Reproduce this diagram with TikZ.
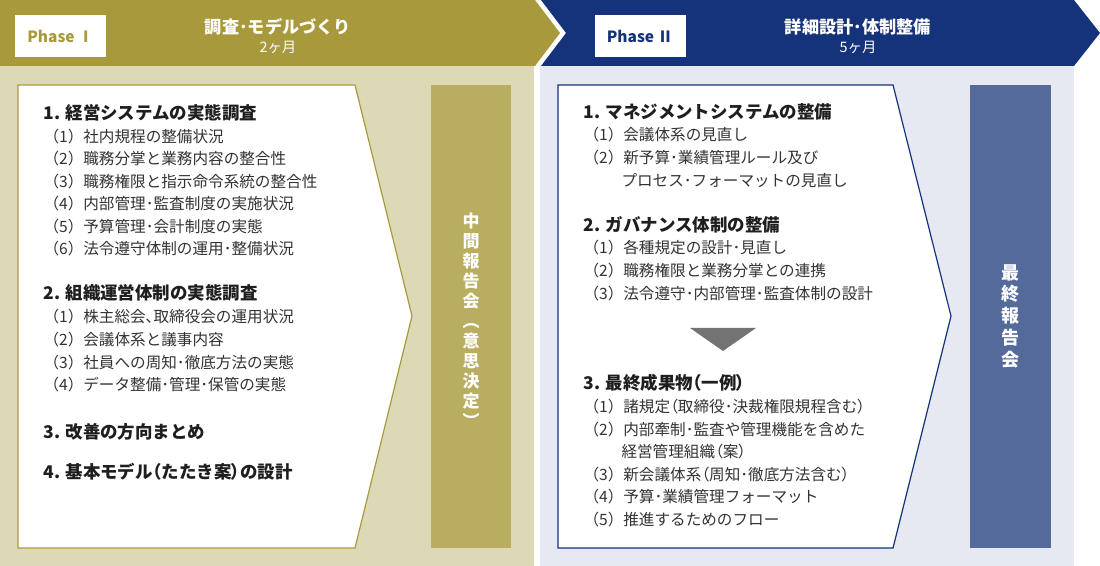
\documentclass[tikz,border=0pt]{standalone}
\usepackage{fontspec}
\setmainfont{Noto Sans CJK JP}
\newfontfamily\paltfont{Noto Sans CJK JP}[RawFeature=+palt]
\newcommand{\lp}{{\paltfont （}}
\newcommand{\rp}{{\paltfont ）}}
\definecolor{olivehead}{HTML}{A89A3C}
\definecolor{olivebg}{HTML}{DDD9B6}
\definecolor{olivebar}{HTML}{B9AD5F}
\definecolor{navyhead}{HTML}{15337A}
\definecolor{navybg}{HTML}{E6E9F2}
\definecolor{navybar}{HTML}{546A9B}
\definecolor{bodytext}{HTML}{333333}
\definecolor{headink}{HTML}{1E1E1E}
\definecolor{arrowgrey}{HTML}{737373}
\tikzset{every picture/.style={line width=0.75pt}}
\tikzset{
  headtext/.style={anchor=base west, inner sep=0pt, text=headink, font=\fontsize{13.1}{15}\selectfont\bfseries},
  itemtext/.style={anchor=base west, inner sep=0pt, text=bodytext, font=\fontsize{11.7}{14}\selectfont},
  phasebox/.style={fill=white, inner sep=0pt, minimum width=68.25pt, minimum height=31.5pt, font=\fontsize{11.6}{13}\selectfont\bfseries},
  titletext/.style={inner sep=0pt, text=white, font=\fontsize{12.9}{14}\selectfont\bfseries},
  monthtext/.style={inner sep=0pt, text=white, font=\fontsize{10.8}{12}\selectfont},
  bartext/.style={inner sep=0pt, text=white, align=center}
}

\begin{document}
\begin{tikzpicture}[x=0.75pt,y=0.75pt,yscale=-1,xscale=1]
\useasboundingbox (0,0) rectangle (1100,566);

%Shape: Phase I header
\fill [olivehead] (0,0) -- (535,0) -- (560,33) -- (535,66) -- (0,66) -- cycle ;
%Shape: Phase II header
\fill [navyhead] (541,0) -- (1074,0) -- (1100,33) -- (1074,66) -- (541,66) -- (566,33) -- cycle ;
%Shape: panel backgrounds
\fill [olivebg] (0,66) rectangle (534,566) ;
\fill [navybg] (540,66) rectangle (1074,566) ;
%Shape: content pentagons
\draw [olivehead, fill=white, line width=0.9] (18,85) -- (355,85) -- (412,316) -- (355,548) -- (18,548) -- cycle ;
\draw [navyhead, fill=white, line width=0.9] (558,85) -- (893,85) -- (951,316) -- (893,548) -- (558,548) -- cycle ;
%Shape: report bars
\fill [olivebar] (431,85) rectangle (511,548) ;
\fill [navybar] (970,85) rectangle (1051,548) ;
%Shape: down triangle
\fill [arrowgrey] (690,328) -- (756,328) -- (723,351) -- cycle ;

% Header Text
\draw (60.5,36) node (phaseone) [phasebox, text=olivehead] {Phase Ⅰ};
\draw (640,36) node (phasetwo) [phasebox, text=navyhead] {Phase Ⅱ};
\draw (278,27) node (titleone) [titletext] {調査･モデルづくり};
\draw (278,47) node (monthone) [monthtext] {2ヶ月};
\draw (858,27) node (titletwo) [titletext] {詳細設計･体制整備};
\draw (858,47) node (monthtwo) [monthtext] {5ヶ月};

% Bar Text
\draw (471,320) node (midreport) [bartext, font=\fontsize{12.75}{15}\selectfont\bfseries] {中\\間\\報\\告\\会\\︵\\意\\思\\決\\定\\︶};
\draw (1010.5,316) node (finalreport) [bartext, font=\fontsize{13.5}{16.3}\selectfont\bfseries] {最\\終\\報\\告\\会};

% Text Node: Phase I items
\draw (43,119.5) node (surveyhead) [headtext] {1. 経営システムの実態調査};
\draw (43,142.5) node (surveya) [itemtext] {（1）社内規程の整備状況};
\draw (43,165) node (surveyb) [itemtext] {（2）職務分掌と業務内容の整合性};
\draw (43,187.5) node (surveyc) [itemtext] {（3）職務権限と指示命令系統の整合性};
\draw (43,210) node (surveyd) [itemtext] {（4）内部管理･監査制度の実施状況};
\draw (43,232.5) node (surveye) [itemtext] {（5）予算管理･会計制度の実態};
\draw (43,255) node (surveyf) [itemtext] {（6）法令遵守体制の運用･整備状況};
\draw (43,300) node (orghead) [headtext] {2. 組織運営体制の実態調査};
\draw (43,322.7) node (orga) [itemtext] {（1）株主総会､取締役会の運用状況};
\draw (43,345.7) node (orgb) [itemtext] {（2）会議体系と議事内容};
\draw (43,368.2) node (orgc) [itemtext] {（3）社員への周知･徹底方法の実態};
\draw (43,390.7) node (orgd) [itemtext] {（4）データ整備･管理･保管の実態};
\draw (43,438.5) node (improvehead) [headtext] {3. 改善の方向まとめ};
\draw (43,478.5) node (modelhead) [headtext] {4. 基本モデル\lp たたき案\rp の設計};

% Text Node: Phase II items
\draw (583,119) node (mgmthead) [headtext] {1. マネジメントシステムの整備};
\draw (583,140.7) node (mgmta) [itemtext] {（1）会議体系の見直し};
\draw (583,163.7) node (mgmtb) [itemtext] {（2）新予算･業績管理ルール及び};
\draw (621,186.7) node (mgmtbb) [itemtext] {プロセス･フォーマットの見直し};
\draw (583,231.5) node (govhead) [headtext] {2. ガバナンス体制の整備};
\draw (583,253.7) node (gova) [itemtext] {（1）各種規定の設計･見直し};
\draw (583,276.7) node (govb) [itemtext] {（2）職務権限と業務分掌との連携};
\draw (583,299.7) node (govc) [itemtext] {（3）法令遵守･内部管理･監査体制の設計};
\draw (583,389.5) node (resulthead) [headtext] {3. 最終成果物\lp 一例\rp};
\draw (583,412.7) node (resulta) [itemtext] {（1）諸規定\lp 取締役･決裁権限規程含む\rp};
\draw (583,435.7) node (resultb) [itemtext] {（2）内部牽制･監査や管理機能を含めた};
\draw (621,457.7) node (resultbb) [itemtext] {経営管理組織\lp 案\rp};
\draw (583,480.7) node (resultc) [itemtext] {（3）新会議体系\lp 周知･徹底方法含む\rp};
\draw (583,502.7) node (resultd) [itemtext] {（4）予算･業績管理フォーマット};
\draw (583,525.7) node (resulte) [itemtext] {（5）推進するためのフロー};

\end{tikzpicture}
\end{document}
